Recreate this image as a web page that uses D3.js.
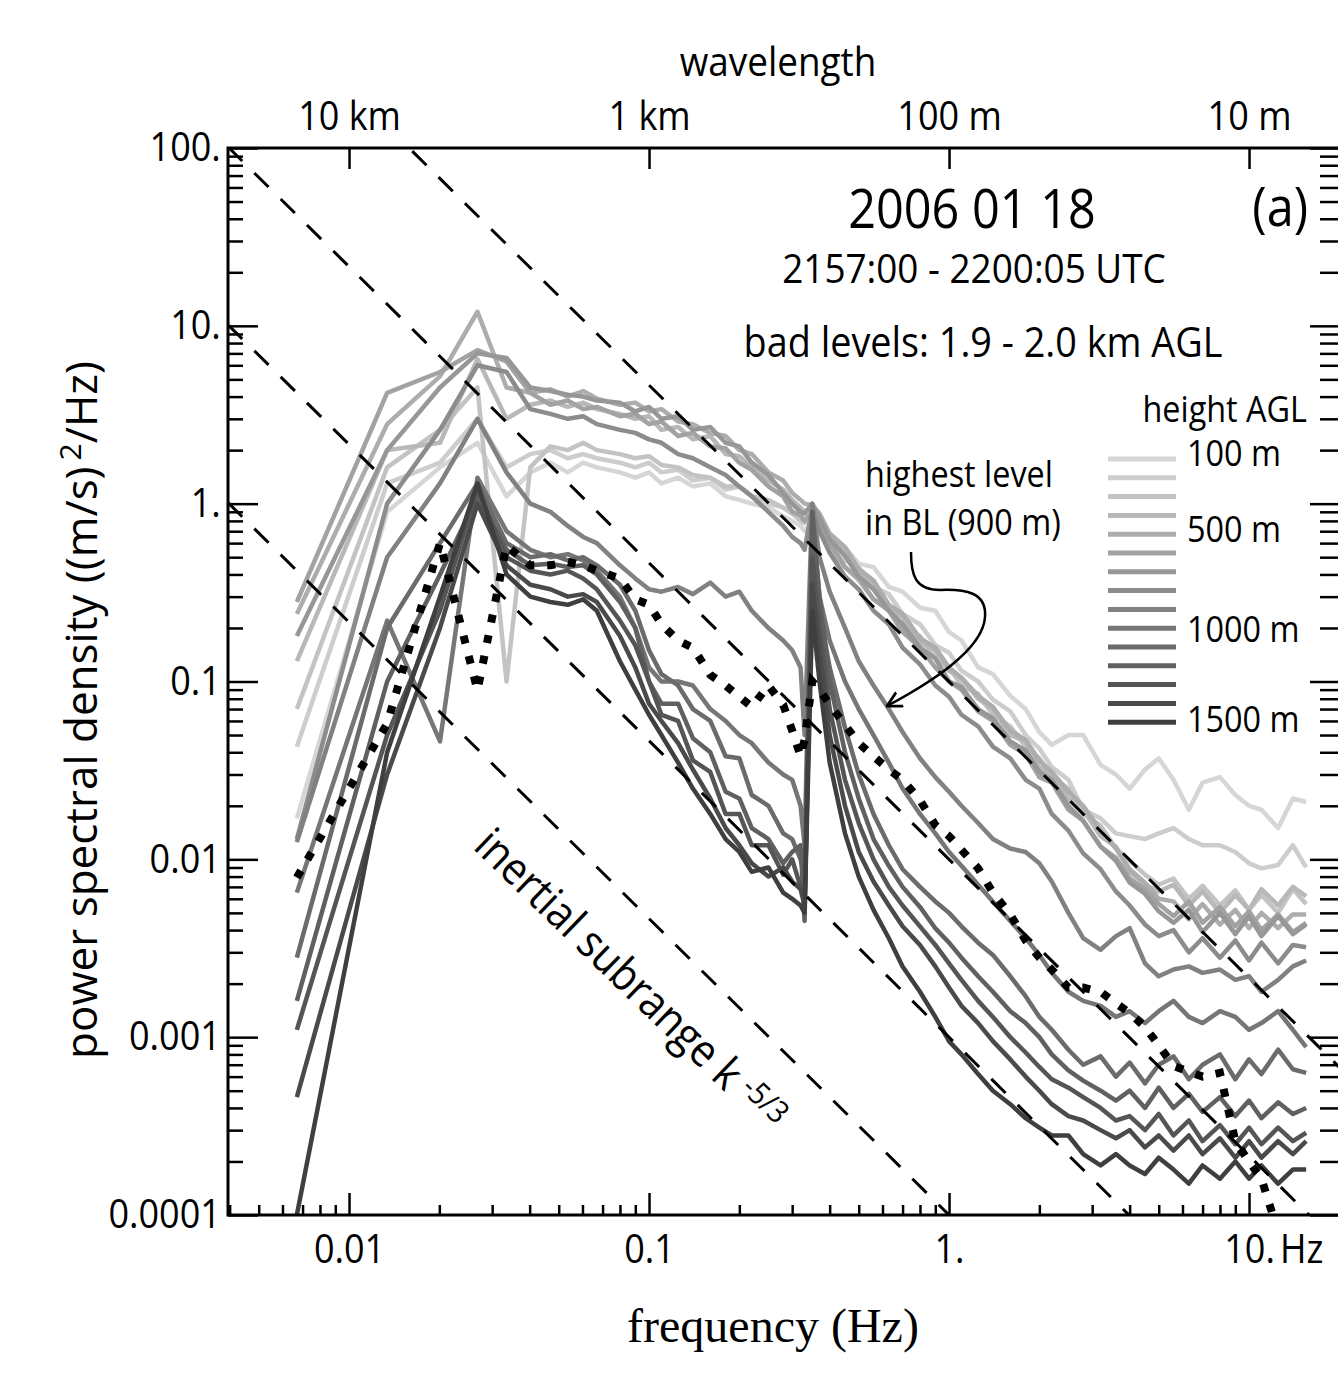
<!DOCTYPE html>
<html>
<head>
<meta charset="utf-8">
<script src="https://cdn.jsdelivr.net/npm/d3@7"></script>
<style>
  body { margin: 0; background: #fff; }
  svg { display: block; }
</style>
</head>
<body>
<div id="graph"></div>
<script>
// frequency grid (Hz) shared by all spectra
const freqs = [0.0067, 0.0134, 0.0201, 0.0268, 0.0335, 0.0402, 0.0469, 0.0536, 0.0603, 0.067,
  0.08, 0.09, 0.1, 0.11, 0.125, 0.14, 0.16, 0.18, 0.2, 0.22,
  0.25, 0.28, 0.3, 0.32, 0.33, 0.35, 0.37, 0.4, 0.45, 0.5,
  0.56, 0.63, 0.7, 0.8, 0.9, 1.0, 1.1, 1.25, 1.4, 1.6,
  1.8, 2.0, 2.2, 2.5, 2.8, 3.2, 3.6, 4.0, 4.5, 5.0,
  5.6, 6.3, 7.0, 8.0, 9.0, 10, 11, 12.5, 14, 15.5];

const heights = ["100 m", "200 m", "300 m", "400 m", "500 m", "600 m", "700 m", "800 m",
  "900 m", "1000 m", "1100 m", "1200 m", "1300 m", "1400 m", "1500 m"];
const grays = ["#d6d6d6", "#cdcdcd", "#c3c3c3", "#b8b8b8", "#adadad", "#a2a2a2", "#979797", "#8c8c8c",
  "#818181", "#767676", "#6b6b6b", "#606060", "#555555", "#4a4a4a", "#3f3f3f"];

// power spectral density, (m/s)^2/Hz, one array per height
const psd100 = [0.017,0.9,1.6,2.2,1.1,1.5,1.7,1.5,1.7,1.6, 1.5,1.4,1.5,1.3,1.4,1.25,1.3,1.1,1.05,1.0,
  0.95,0.85,0.8,0.75,0.7,0.8,0.72,0.62,0.57,0.46, 0.44,0.34,0.32,0.26,0.25,0.19,0.17,0.12,0.11,0.083,
  0.07,0.052,0.044,0.05,0.05,0.034,0.03,0.025,0.032,0.037, 0.028,0.019,0.027,0.029,0.023,0.02,0.019,0.015,0.022,0.021];
const psd200 = [0.043,1.3,1.7,3.0,1.6,1.9,2.0,1.8,1.9,1.8, 1.7,1.6,1.7,1.5,1.55,1.35,1.4,1.2,1.25,1.1,
  1.0,0.95,0.9,0.85,0.8,0.9,0.78,0.64,0.48,0.44, 0.34,0.31,0.24,0.21,0.16,0.145,0.115,0.1,0.079,0.068,
  0.05,0.042,0.033,0.028,0.019,0.017,0.014,0.0135,0.013,0.014, 0.015,0.013,0.012,0.012,0.011,0.0095,0.0089,0.0093,0.012,0.009];
const psd300 = [0.07,1.6,2.6,4.5,0.1,1.6,2.1,2.0,2.2,2.0, 1.9,1.8,1.85,1.65,1.6,1.45,1.4,1.25,1.25,1.1,
  1.05,0.95,0.88,0.8,0.78,0.85,0.72,0.56,0.44,0.37, 0.29,0.26,0.2,0.18,0.135,0.12,0.095,0.085,0.065,0.056,
  0.043,0.037,0.029,0.025,0.018,0.0155,0.0115,0.0098,0.0082,0.0072, 0.0078,0.006,0.0071,0.0055,0.0067,0.0052,0.0063,0.005,0.0068,0.0056];
const psd400 = [0.13,2.0,2.2,6.5,3.0,3.6,3.8,3.5,3.7,3.4, 3.2,3.0,3.1,2.6,2.7,2.3,2.4,1.9,1.85,1.6,
  1.35,1.2,1.05,0.95,0.9,0.95,0.8,0.66,0.52,0.42, 0.35,0.26,0.23,0.165,0.15,0.115,0.105,0.08,0.07,0.05,
  0.046,0.033,0.03,0.022,0.019,0.0135,0.0118,0.0085,0.0072,0.0066, 0.0072,0.0055,0.0066,0.005,0.0063,0.0052,0.0068,0.0055,0.007,0.0062];
const psd500 = [0.24,2.8,5.2,12,4.5,4.2,4.4,4.0,4.3,3.9, 3.6,3.7,3.3,3.4,2.9,2.8,2.5,2.4,2.0,1.9,
  1.5,1.35,1.15,1.05,1.0,0.98,0.88,0.68,0.57,0.43, 0.37,0.27,0.24,0.175,0.155,0.12,0.105,0.083,0.072,0.053,
  0.047,0.036,0.031,0.024,0.02,0.0145,0.0115,0.0088,0.0074,0.006, 0.0058,0.0046,0.0056,0.0043,0.0052,0.0041,0.005,0.0041,0.0049,0.0049];
const psd600 = [0.28,4.2,5.5,7.3,6.3,4.2,3.6,3.8,3.4,3.5, 3.1,3.2,2.8,2.9,2.4,2.5,2.1,2.05,1.7,1.55,
  1.25,1.1,0.9,0.86,0.8,0.9,0.74,0.6,0.44,0.38, 0.29,0.25,0.19,0.155,0.12,0.1,0.09,0.068,0.06,0.044,
  0.039,0.029,0.027,0.019,0.0165,0.0118,0.0102,0.0078,0.0068,0.0056, 0.0048,0.0058,0.0044,0.0054,0.0042,0.0051,0.004,0.0049,0.0039,0.0044];
const psd700 = [0.18,2.0,4.5,7.0,6.6,4.5,4.3,4.1,4.0,3.8, 3.7,3.3,3.5,3.0,3.1,2.6,2.7,2.2,2.1,1.7,
  1.45,1.15,1.0,0.9,0.88,1.0,0.84,0.63,0.51,0.39, 0.33,0.25,0.21,0.155,0.135,0.1,0.093,0.07,0.062,0.046,
  0.041,0.031,0.028,0.02,0.0165,0.0118,0.0098,0.0074,0.0064,0.0051, 0.0044,0.0052,0.0039,0.005,0.0038,0.0048,0.0037,0.0048,0.0038,0.0043];
const psd800 = [0.013,1.0,2.6,6.0,5.5,3.4,3.2,3.0,3.1,2.8, 2.6,2.5,2.3,2.2,1.9,1.8,1.6,1.45,1.25,1.1,
  0.9,0.75,0.65,0.6,0.55,0.95,0.7,0.53,0.39,0.33, 0.25,0.21,0.155,0.125,0.095,0.082,0.065,0.056,0.043,0.037,
  0.028,0.025,0.018,0.0145,0.0108,0.0088,0.0066,0.0055,0.0043,0.0037, 0.004,0.003,0.0036,0.0028,0.0035,0.0027,0.0034,0.0026,0.0033,0.0032];
const psd900 = [0.0125,0.5,1.3,3.0,1.5,1.0,0.9,0.75,0.65,0.6, 0.45,0.38,0.33,0.32,0.34,0.31,0.36,0.3,0.32,0.25,
  0.2,0.17,0.15,0.12,0.05,1.0,0.5,0.32,0.2,0.13, 0.095,0.07,0.052,0.037,0.029,0.024,0.02,0.016,0.013,0.0115,
  0.011,0.0095,0.0075,0.005,0.0036,0.0031,0.0037,0.0041,0.0026,0.0022, 0.0024,0.0025,0.0023,0.0024,0.0021,0.0022,0.0018,0.0021,0.0025,0.0027];
const psd1000 = [0.0065,0.22,0.046,1.4,0.7,0.55,0.5,0.52,0.48,0.42, 0.3,0.2,0.12,0.1,0.1,0.095,0.07,0.06,0.05,0.045,
  0.035,0.03,0.028,0.02,0.012,0.8,0.3,0.17,0.1,0.07, 0.05,0.035,0.025,0.018,0.014,0.011,0.0092,0.0072,0.0058,0.0045,
  0.0036,0.0029,0.0023,0.0018,0.0016,0.0015,0.0013,0.0014,0.0012,0.0014, 0.0016,0.0013,0.0012,0.0014,0.0013,0.0011,0.0012,0.0014,0.0011,0.00088];
const psd1100 = [0.0028,0.2,0.6,1.3,0.6,0.5,0.52,0.48,0.5,0.45, 0.35,0.25,0.15,0.11,0.095,0.07,0.06,0.038,0.037,0.023,
  0.02,0.014,0.013,0.01,0.008,0.55,0.25,0.12,0.055,0.03, 0.018,0.012,0.0088,0.007,0.0058,0.005,0.0042,0.0034,0.0029,0.0022,
  0.0017,0.0013,0.0011,0.00085,0.0007,0.00078,0.0006,0.00072,0.00055,0.0007, 0.00078,0.00058,0.0007,0.0008,0.00058,0.00075,0.00062,0.00085,0.00066,0.00063];
const psd1200 = [0.0016,0.1,0.4,1.1,0.55,0.45,0.46,0.44,0.45,0.4, 0.28,0.2,0.1,0.075,0.075,0.048,0.04,0.024,0.022,0.015,
  0.013,0.0095,0.011,0.012,0.0045,0.9,0.3,0.1,0.04,0.022, 0.013,0.0092,0.007,0.0054,0.0041,0.0034,0.0028,0.0022,0.0018,0.0014,
  0.0012,0.001,0.0008,0.00065,0.00057,0.0005,0.00044,0.0005,0.0004,0.00052, 0.0004,0.00048,0.00038,0.00046,0.00036,0.00044,0.00035,0.00043,0.00037,0.0004];
const psd1300 = [0.0011,0.05,0.25,1.2,0.5,0.42,0.4,0.42,0.38,0.33, 0.22,0.16,0.1,0.065,0.06,0.036,0.031,0.018,0.018,0.012,
  0.012,0.0082,0.01,0.007,0.006,0.5,0.2,0.07,0.028,0.016, 0.01,0.007,0.0055,0.0042,0.0033,0.0026,0.0021,0.0016,0.0013,0.001,
  0.00082,0.00068,0.00058,0.00052,0.00046,0.0004,0.00034,0.00036,0.0003,0.00037, 0.00028,0.00034,0.00026,0.00032,0.00025,0.00031,0.00025,0.00031,0.00026,0.00029];
const psd1400 = [0.00046,0.03,0.2,1.0,0.45,0.35,0.33,0.3,0.31,0.28, 0.18,0.12,0.075,0.06,0.045,0.032,0.022,0.015,0.012,0.0095,
  0.008,0.009,0.0075,0.0068,0.0055,0.35,0.15,0.05,0.02,0.011, 0.0075,0.0055,0.0042,0.0033,0.0025,0.0019,0.0015,0.0012,0.00095,0.00075,
  0.0006,0.0005,0.00042,0.00036,0.00034,0.0003,0.00027,0.0003,0.00024,0.00028, 0.00023,0.00028,0.00022,0.00027,0.00021,0.00026,0.00021,0.00026,0.00022,0.00026];
const psd1500 = [0.0001,0.04,0.3,1.3,0.4,0.3,0.28,0.27,0.29,0.25, 0.13,0.09,0.065,0.05,0.035,0.025,0.018,0.013,0.011,0.0085,
  0.009,0.0065,0.006,0.0055,0.005,0.25,0.1,0.035,0.014,0.008, 0.0052,0.0036,0.0025,0.0018,0.0013,0.00095,0.0008,0.00062,0.0005,0.00042,
  0.00035,0.00031,0.00028,0.00028,0.00022,0.00019,0.00022,0.00019,0.00017,0.00021, 0.00018,0.00015,0.00019,0.00016,0.0002,0.00016,0.00019,0.00015,0.00018,0.00018];
// dotted black spectrum (runs off the bottom near 12 Hz)
const psdDotted = [0.0079,0.058,0.6,0.089,0.58,0.45,0.45,0.47,0.45,0.42, 0.38,0.29,0.27,0.21,0.17,0.155,0.109,0.095,0.082,0.072,
  0.095,0.074,0.053,0.038,0.047,0.1,0.09,0.074,0.057,0.045, 0.038,0.032,0.028,0.0215,0.0156,0.0135,0.0113,0.0089,0.0065,0.0049,
  0.0035,0.0028,0.0024,0.0019,0.0019,0.0018,0.00155,0.00137,0.00114,0.0009, 0.00069,0.00064,0.0006,0.00063,0.00026,0.0002,0.00016,0.00008];

const series = [psd100, psd200, psd300, psd400, psd500, psd600, psd700, psd800,
  psd900, psd1000, psd1100, psd1200, psd1300, psd1400, psd1500];

// k^-5/3 reference lines: amplitude at 1 Hz
const slopeAmps = [0.1, 0.01, 0.001, 0.0001];

const xMajor = [0.01, 0.1, 1, 10];
const xLabels = ["0.01", "0.1", "1.", "10."];
const waveLabels = ["10 km", "1 km", "100 m", "10 m"];
const yMajor = [0.0001, 0.001, 0.01, 0.1, 1, 10, 100];
const yLabels = ["0.0001", "0.001", "0.01", "0.1", "1.", "10.", "100."];
const legendLabels = ["100 m", "500 m", "1000 m", "1500 m"];

const w = 1338, h = 1384;
const pL = 228, pR = 1340, pT = 148, pB = 1215;
const sansFont = "'Open Sans', 'Noto Sans', sans-serif";
const squeeze = "scale(0.9,1)";

const xScale = d3.scaleLog().domain([0.00395, 20.1]).range([pL, pR]);
const yScale = d3.scaleLog().domain([0.0001, 100]).range([pB, pT]);

const isDecade = d => Math.abs(Math.log10(d) - Math.round(Math.log10(d))) < 1e-6;
const xMinor = xScale.ticks().filter(d => !isDecade(d));
const yMinor = yScale.ticks().filter(d => !isDecade(d));

const svg = d3.select("#graph").append("svg").attr("width", w).attr("height", h);

const defs = svg.append("defs");
defs.append("clipPath").attr("id", "clip")
    .append("rect").attr("x", pL).attr("y", pT).attr("width", pR - pL).attr("height", pB - pT);

const marker = defs.append("marker")
   .attr("id", "arrow").attr("markerUnits", "userSpaceOnUse")
   .attr("viewBox", "0 -8 14 16").attr("refX", 13).attr("refY", 0)
   .attr("markerWidth", 16).attr("markerHeight", 18).attr("orient", "auto");
marker.append("path").attr("d", "M0,-7 L13,0 L0,7").attr("fill", "none").attr("stroke", "#000").attr("stroke-width", 2.5);

function styleAxis(g) {
  g.select(".domain").remove();
  g.selectAll(".tick line").attr("stroke", "#000").attr("stroke-width", 2.5);
  g.selectAll(".tick text")
   .style("font-family", sansFont).style("font-size", "40px").attr("fill", "#000")
   .attr("transform", squeeze);
}

// spectra
const line = d3.line().x((d, i) => xScale(freqs[i])).y(d => yScale(d));
const lines = svg.append("g").attr("clip-path", "url(#clip)");
series.forEach((s, i) => {
  lines.append("path")
       .attr("d", line(s))
       .attr("fill", "none")
       .attr("stroke", grays[i])
       .attr("stroke-width", 4.5)
       .attr("stroke-linejoin", "round");
});

// inertial subrange lines
const fLo = xScale.domain()[0], fHi = xScale.domain()[1];
slopeAmps.forEach(a => {
  lines.append("line")
       .attr("x1", xScale(fLo)).attr("y1", yScale(a * Math.pow(fLo, -5 / 3)))
       .attr("x2", xScale(fHi)).attr("y2", yScale(a * Math.pow(fHi, -5 / 3)))
       .attr("stroke", "#000").attr("stroke-width", 3)
       .attr("stroke-dasharray", "20,17");
});

lines.append("path")
     .attr("d", line(psdDotted))
     .attr("fill", "none")
     .attr("stroke", "#000")
     .attr("stroke-width", 8)
     .attr("stroke-dasharray", "8,13");

// axes
svg.append("g").attr("transform", `translate(0,${pB})`)
   .call(d3.axisBottom(xScale).tickValues(xMinor).tickSize(-10).tickFormat(""))
   .call(styleAxis);
svg.append("g").attr("transform", `translate(0,${pB})`)
   .call(d3.axisBottom(xScale).tickValues(xMajor).tickSize(-22).tickPadding(20).tickFormat((d, i) => xLabels[i]))
   .call(styleAxis);
svg.append("g").attr("transform", `translate(0,${pT})`)
   .call(d3.axisTop(xScale).tickValues(xMajor).tickSize(-21).tickPadding(18).tickFormat((d, i) => waveLabels[i]))
   .call(styleAxis);
svg.append("g").attr("transform", `translate(${pL},0)`)
   .call(d3.axisLeft(yScale).tickValues(yMinor).tickSize(-15).tickFormat(""))
   .call(styleAxis);
svg.append("g").attr("transform", `translate(${pL},0)`)
   .call(d3.axisLeft(yScale).tickValues(yMajor).tickSize(-30).tickPadding(8).tickFormat((d, i) => yLabels[i]))
   .call(styleAxis);
svg.append("g").attr("transform", `translate(${pR},0)`)
   .call(d3.axisRight(yScale).tickValues(yMinor).tickSize(-20).tickFormat(""))
   .call(styleAxis);
svg.append("g").attr("transform", `translate(${pR},0)`)
   .call(d3.axisRight(yScale).tickValues(yMajor).tickSize(-30).tickFormat(""))
   .call(styleAxis);

svg.append("rect")
   .attr("x", pL).attr("y", pT).attr("width", pR - pL).attr("height", pB - pT)
   .attr("fill", "none").attr("stroke", "#000").attr("stroke-width", 3);

function sans(x0, y0, str, size, anchor) {
  return svg.append("text")
            .attr("transform", `translate(${x0},${y0}) ${squeeze}`)
            .attr("text-anchor", anchor || "start")
            .style("font-family", sansFont)
            .style("font-size", size + "px")
            .text(str);
}

sans(1280, 1263, "Hz", 40);
sans(778, 76, "wavelength", 41, "middle");
sans(972, 228, "2006 01 18", 54, "middle");
sans(1308, 226, "(a)", 54, "end");
sans(974, 283, "2157:00 - 2200:05 UTC", 41, "middle");
sans(983, 357, "bad levels: 1.9 - 2.0 km AGL", 42, "middle");
sans(1307, 422, "height AGL", 36, "end");
sans(865, 487, "highest level", 36);
sans(865, 535, "in BL (900 m)", 36);

// legend
const legendY = [466, 542, 642, 732];
grays.forEach((c, i) => {
  svg.append("line")
     .attr("x1", 1108).attr("x2", 1176)
     .attr("y1", 459 + i * 18.8).attr("y2", 459 + i * 18.8)
     .attr("stroke", c).attr("stroke-width", 5);
});
legendLabels.forEach((t, i) => sans(1187, legendY[i], t, 36));

// arrow to the highest BL level
svg.append("path")
   .attr("d", "M911,552 C911,575 915,590 940,590 C965,589 987,592 985,617 C983,650 930,683 887,706")
   .attr("fill", "none").attr("stroke", "#000").attr("stroke-width", 2.5)
   .attr("marker-end", "url(#arrow)");

// slope label
const slopeText = svg.append("text")
   .attr("transform", `translate(472,848) rotate(44) ${squeeze}`)
   .style("font-family", sansFont).style("font-size", "45px");
slopeText.append("tspan").text("inertial subrange k");
slopeText.append("tspan").attr("dx", 10).attr("dy", -12).style("font-size", "31px").text("-5/3");

// axis titles
const yTitle = svg.append("text")
   .attr("transform", "translate(97,710) rotate(-90)")
   .attr("text-anchor", "middle")
   .style("font-family", sansFont).style("font-size", "44px");
yTitle.append("tspan").text("power spectral density ((m/s)");
yTitle.append("tspan").attr("dx", 6).attr("dy", -16).style("font-size", "30px").text("2");
yTitle.append("tspan").attr("dy", 16).text("/Hz)");

svg.append("text")
   .attr("x", 773).attr("y", 1342)
   .attr("text-anchor", "middle")
   .style("font-family", "'Liberation Serif', 'Times New Roman', serif")
   .style("font-size", "48px")
   .text("frequency (Hz)");

// caption, cut off by the page edge
svg.append("text")
   .attr("x", 58).attr("y", 1428)
   .style("font-family", "'Liberation Serif', 'Times New Roman', serif")
   .style("font-size", "62px")
   .text("Fig. 6. Power spectra of WCR vertical velocity at all levels for");
</script>
</body>
</html>
